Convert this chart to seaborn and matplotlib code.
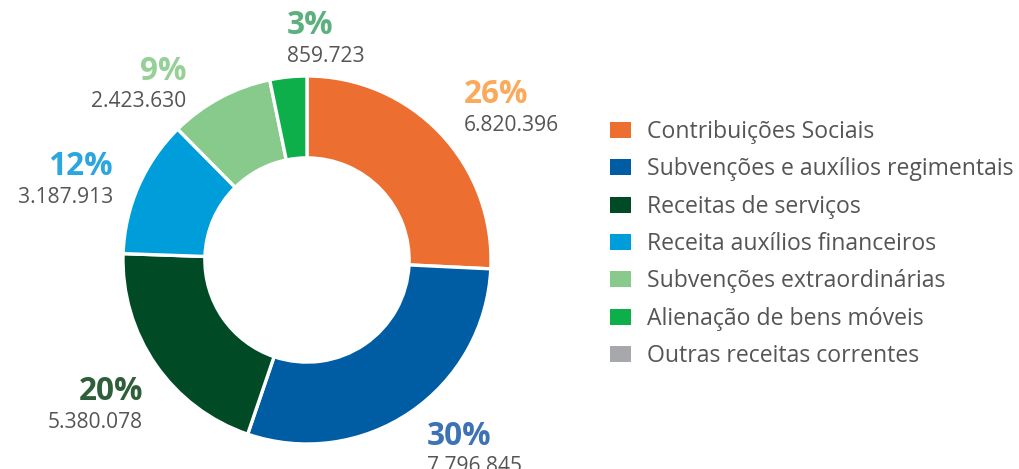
import numpy as np
import matplotlib
matplotlib.use("Agg")
import matplotlib.pyplot as plt
from matplotlib.patches import Patch
import seaborn as sns

# Revenue categories and amounts
categories = [
    "Contribuições Sociais",
    "Subvenções e auxílios regimentais",
    "Receitas de serviços",
    "Receita auxílios financeiros",
    "Subvenções extraordinárias",
    "Alienação de bens móveis",
    "Outras receitas correntes",
]
values = [6820396, 7796845, 5380078, 3187913, 2423630, 859723, 0]
wedge_colors = ["#ED6E31", "#005DA4", "#004B26", "#009DDB", "#88CA8C", "#0DAF4B", "#A6A8AB"]
pct_colors = ["#FBAA5C", "#3D72B4", "#2E5E3A", "#2BA6DE", "#95D096", "#5BB07E", "#A6A8AB"]

# fine adjustments of the label blocks (pixels, right / down)
label_nudge = [(0, 0), (-2, 12), (15, 24), (5, 9), (-18, 18), (2, -3), (0, 0)]

sns.set_theme(style="white")
plt.rcParams["font.family"] = ["Open Sans", "DejaVu Sans"]

TEXT = "#555555"
W, H = 1019, 469
fig = plt.figure(figsize=(W / 100, H / 100), dpi=100)
fig.patch.set_facecolor("white")
PT = 72 / 100  # points per pixel

# donut geometry (pixels)
cx, cy, R = 307, 260, 184
ax = fig.add_axes([(cx - R) / W, (H - cy - R) / H, 2 * R / W, 2 * R / H])

vals = np.array(values, dtype=float)
total = vals.sum()

# percentages rounded by largest remainder so they sum to 100
raw = vals / total * 100
pcts = np.floor(raw).astype(int)
rem = raw - pcts
for i in np.argsort(-rem)[: 100 - pcts.sum()]:
    pcts[i] += 1

idx = [i for i, v in enumerate(values) if v > 0]
wedges, _ = ax.pie(
    [values[i] for i in idx],
    colors=[wedge_colors[i] for i in idx],
    startangle=90,
    counterclock=False,
    radius=1.0,
    wedgeprops=dict(width=0.445, edgecolor="white", linewidth=2.4),
)
ax.set_xlim(-1, 1)
ax.set_ylim(-1, 1)
ax.axis("off")

for w, i in zip(wedges, idx):
    mid = np.deg2rad((w.theta1 + w.theta2) / 2)
    r = 1.18
    x, y = r * np.cos(mid), r * np.sin(mid)
    ha = "left" if x > -0.2 else "right"
    dx, dy = label_nudge[i]
    ax.annotate(f"{pcts[i]}%", xy=(x, y), xytext=(dx * PT, 5 - dy * PT),
                textcoords="offset points", ha=ha, va="baseline", fontsize=22.7,
                fontweight="bold", color=pct_colors[i], annotation_clip=False)
    ax.annotate(f"{values[i]:,}".replace(",", "."), xy=(x, y),
                xytext=(dx * PT, -15 - dy * PT), textcoords="offset points",
                ha=ha, va="baseline", fontsize=15.1, color=TEXT,
                annotation_clip=False)

handles = [Patch(facecolor=c, edgecolor="none") for c in wedge_colors]
leg = fig.legend(
    handles, categories,
    loc="upper left", bbox_to_anchor=(610 / W, 1 - 120 / H),
    frameon=False, fontsize=16.6, handlelength=0.92, handleheight=0.7,
    handletextpad=0.68, labelspacing=0.58, borderpad=0, borderaxespad=0,
)
for t in leg.get_texts():
    t.set_color(TEXT)

fig.savefig("out.png", dpi=100, facecolor="white")
